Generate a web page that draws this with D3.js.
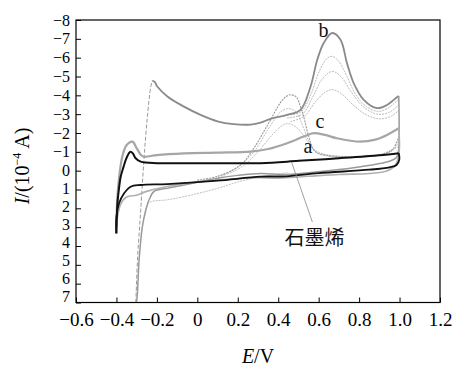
<!DOCTYPE html>
<html><head><meta charset="utf-8">
<script src="https://cdn.jsdelivr.net/npm/d3@7"></script>
<style>body{margin:0;background:#fff;} svg{display:block;}</style>
</head><body>
<svg id="c" width="466" height="370"></svg>
<script>
// ---- data (E in V, I in 10^-4 A as plotted) ----
const xTicks = [-0.6,-0.4,-0.2,0,0.2,0.4,0.6,0.8,1.0,1.2];
const yTicks = [-8,-7,-6,-5,-4,-3,-2,-1,0,1,2,3,4,5,6,7];

const bRise = [[-0.304,7.0],[-0.296,4.75],[-0.28,2.1],[-0.264,-0.57],[-0.247,-2.87],[-0.23,-4.47],[-0.222,-4.79]];
const bFwd = [[-0.222,-4.79],[-0.21,-4.7],[-0.198,-4.47],[-0.148,-3.94],[-0.066,-3.40],[0.016,-2.96],[0.099,-2.62],[0.18,-2.47],[0.263,-2.45],[0.313,-2.55],[0.362,-2.75],[0.444,-2.96],[0.51,-3.23],[0.56,-4.47],[0.593,-5.89],[0.625,-6.78],[0.667,-7.31],[0.708,-6.95],[0.74,-5.71],[0.773,-4.65],[0.823,-3.76],[0.889,-3.32],[0.938,-3.49],[0.971,-3.76],[0.996,-3.97]];
const bRev = [[0.996,-3.97],[0.998,-2.5],[0.996,-1.2],[0.985,-0.7],[0.95,-0.5],[0.889,-0.35],[0.773,-0.15],[0.61,0.05],[0.444,0.2],[0.313,0.15],[0.2,0.25],[0.1,0.4],[-0.066,0.76],[-0.148,0.94],[-0.214,1.1],[-0.239,1.56],[-0.255,2.1],[-0.272,2.98],[-0.288,4.75],[-0.3,6.9],[-0.304,7.0]];
const bInner1 = [[0.444,-2.96],[0.51,-3.1],[0.56,-4.0],[0.6,-5.2],[0.64,-5.95],[0.667,-6.07],[0.7,-5.8],[0.74,-5.0],[0.78,-4.1],[0.83,-3.45],[0.89,-3.15],[0.94,-3.3],[0.996,-3.8]];
const bInner2 = [[0.444,-2.8],[0.52,-3.0],[0.57,-3.9],[0.62,-4.9],[0.667,-5.27],[0.71,-5.0],[0.76,-4.2],[0.82,-3.4],[0.89,-3.0],[0.95,-3.1],[0.996,-3.5]];
const bInner3 = [[0.46,-2.6],[0.53,-2.9],[0.58,-3.6],[0.63,-4.15],[0.667,-4.3],[0.71,-4.1],[0.77,-3.5],[0.83,-3.0],[0.9,-2.75],[0.96,-2.9],[0.996,-3.2]];
const bRevInner = [[-0.262,2.4],[-0.245,1.8],[-0.23,1.65],[-0.15,1.55],[-0.066,1.38],[0.1,0.94],[0.2,0.6],[0.313,0.32],[0.45,0.1]];

const g1 = [[0.0,0.5],[0.1,0.3],[0.214,-0.3],[0.28,-1.2],[0.33,-2.1],[0.362,-2.7],[0.41,-3.6],[0.44,-3.95],[0.46,-4.03],[0.48,-3.98],[0.494,-3.85],[0.51,-3.4],[0.526,-2.87],[0.551,-1.81],[0.576,-1.1],[0.6,-0.9],[0.625,-0.84],[0.7,-0.74],[0.773,-0.71],[0.85,-0.75],[0.905,-0.84],[0.95,-1.0],[0.971,-1.19],[0.996,-1.81]];
const g2 = [[0.1,0.35],[0.2,-0.2],[0.28,-1.0],[0.35,-2.2],[0.41,-3.1],[0.45,-3.3],[0.49,-3.1],[0.52,-2.4],[0.55,-1.6],[0.58,-1.05],[0.63,-0.8],[0.75,-0.7],[0.88,-0.8],[0.97,-1.1],[0.996,-1.6]];
const g3 = [[0.12,0.3],[0.22,-0.2],[0.3,-1.0],[0.37,-1.9],[0.42,-2.4],[0.45,-2.5],[0.49,-2.3],[0.53,-1.8],[0.57,-1.2],[0.62,-0.9],[0.75,-0.75],[0.9,-0.85],[0.996,-1.3]];

const cFwd = [[-0.4,3.0],[-0.396,1.5],[-0.385,0.2],[-0.37,-0.8],[-0.35,-1.35],[-0.321,-1.54],[-0.3,-1.2],[-0.28,-0.85],[-0.264,-0.74],[-0.2,-0.83],[-0.066,-0.92],[0.1,-0.96],[0.263,-1.01],[0.35,-1.15],[0.444,-1.46],[0.526,-1.81],[0.576,-1.99],[0.63,-1.9],[0.69,-1.72],[0.806,-1.54],[0.88,-1.65],[0.938,-1.9],[0.996,-2.25]];
const cRev = [[0.996,-2.25],[0.998,-1.0],[0.98,-0.3],[0.94,0.0],[0.85,0.15],[0.7,0.2],[0.55,0.3],[0.4,0.4],[0.3,0.38],[0.1,0.5],[-0.1,0.75],[-0.25,1.1],[-0.3,1.3],[-0.35,1.4],[-0.38,1.8],[-0.395,2.5],[-0.4,3.0]];

const aFwd = [[-0.4,3.33],[-0.398,2.4],[-0.395,1.73],[-0.388,1.0],[-0.379,0.32],[-0.365,-0.2],[-0.354,-0.57],[-0.34,-0.9],[-0.33,-1.01],[-0.318,-0.9],[-0.305,-0.66],[-0.28,-0.48],[-0.2,-0.4],[-0.148,-0.39],[0.1,-0.39],[0.313,-0.4],[0.5,-0.52],[0.7,-0.66],[0.9,-0.82],[0.996,-0.93]];
const aRev = [[0.996,-0.93],[0.999,-0.6],[0.985,-0.3],[0.95,-0.18],[0.85,-0.05],[0.6,0.13],[0.44,0.3],[0.313,0.32],[0.1,0.53],[-0.148,0.71],[-0.28,0.76],[-0.33,0.85],[-0.362,1.2],[-0.387,1.73],[-0.4,2.45],[-0.401,3.33]];

const labels = [{t:"b",E:0.599,I:-7.11},{t:"c",E:0.584,I:-2.27},{t:"a",E:0.525,I:-0.94}];
const annotText = "石墨烯";
const annotPos = {E:0.58, I:3.96};
const leader = [[0.466,-0.46],[0.569,2.73]];

// ---- drawing ----
const SERIF = '"Liberation Serif", "Times New Roman", Times, serif';
const CJK = '"Noto Sans CJK SC", sans-serif';
const cv = document.createElement("canvas").getContext("2d");
cv.font = "18px " + SERIF; cv.measureText("0123456789abcEIVA()−");
cv.font = "italic 18px " + SERIF; cv.measureText("EI");
cv.font = "20px " + CJK; cv.measureText(annotText);

const svg = d3.select("#c");
const W = 466, H = 370;
svg.append("rect").attr("width",W).attr("height",H).attr("fill","#fff");
const x = d3.scaleLinear().domain([-0.6,1.2]).range([76,440]);
const y = d3.scaleLinear().domain([-8,7]).range([20,302.5]);

const line = d3.line().x(d=>x(d[0])).y(d=>y(d[1])).curve(d3.curveCatmullRom.alpha(0.5));
const plot = svg.append("g");
function draw(data, color, w, dash){
  const p = plot.append("path").attr("d", line(data)).attr("fill","none")
    .attr("stroke", color).attr("stroke-width", w).attr("stroke-linejoin","round");
  if (dash) p.attr("stroke-dasharray", dash);
}
[bInner1,bInner2,bInner3].forEach(d=>draw(d,"#aaa",0.8,"2,1"));
[g2,g3].forEach(d=>draw(d,"#b0b0b0",0.8,"2,1"));
draw(bRevInner,"#b0b0b0",0.8,"2,1");
draw(g1,"#999",1.1,"2,1");
draw(bRise,"#999",1.0,"4,2");
draw(bFwd,"#8a8a8a",1.8,null);
draw(bRev,"#9a9a9a",1.5,null);
draw(cFwd,"#a6a6a6",2.2,null);
draw(cRev,"#b0b0b0",1.6,null);
draw(aFwd,"#111",2.0,null);
draw(aRev,"#111",1.8,null);

svg.append("line").attr("x1",x(leader[0][0])).attr("y1",y(leader[0][1]))
  .attr("x2",x(leader[1][0])).attr("y2",y(leader[1][1])).attr("stroke","#888").attr("stroke-width",0.8);
svg.append("text").attr("x",x(annotPos.E)).attr("y",y(annotPos.I)).attr("text-anchor","middle")
  .style("font-family",CJK).style("font-size","20px").attr("fill","#111").text(annotText);
labels.forEach(l=>{
  svg.append("text").attr("x",x(l.E)).attr("y",y(l.I))
    .style("font-family",SERIF).style("font-size","20px").attr("fill","#111").text(l.t);
});

const xAxis = d3.axisBottom(x).tickValues(xTicks).tickSize(-5).tickPadding(10)
  .tickFormat(d=> d===0 ? "0" : d3.format(".1f")(d));
const yAxis = d3.axisLeft(y).tickValues(yTicks).tickSize(-5).tickPadding(6)
  .tickFormat(d=> d3.format("d")(d));
const gx = svg.append("g").attr("transform","translate(0,302.5)").call(xAxis);
const gy = svg.append("g").attr("transform","translate(76,0)").call(yAxis);
[gx,gy].forEach(g=>{
  g.attr("font-family",null).attr("font-size",null);
  g.select(".domain").remove();
  g.selectAll("line").attr("stroke","#000");
  g.selectAll("text").style("font-family",SERIF).attr("fill","#000");
});
gx.selectAll("text").style("font-size","19px");
gy.selectAll("text").style("font-size","16px")
  .attr("transform", d => d>0 ? `translate(0,${-d*0.9})` : null);

svg.append("rect").attr("x",76).attr("y",20).attr("width",364).attr("height",282.5)
  .attr("fill","none").attr("stroke","#000").attr("stroke-width",1.2);

const xt = svg.append("text").attr("x",258).attr("y",363).attr("text-anchor","middle")
  .style("font-family",SERIF).style("font-size","20px").attr("fill","#000");
xt.append("tspan").style("font-style","italic").text("E");
xt.append("tspan").text("/V");

const yt = svg.append("text").attr("transform","translate(29,166) rotate(-90)").attr("text-anchor","middle")
  .style("font-family",SERIF).style("font-size","20px").attr("fill","#000");
yt.append("tspan").style("font-style","italic").text("I");
yt.append("tspan").text("/(10");
yt.append("tspan").style("font-size","12px").attr("dy",-8).text("−4");
yt.append("tspan").attr("dy",8).text(" A)");
</script>
</body></html>
